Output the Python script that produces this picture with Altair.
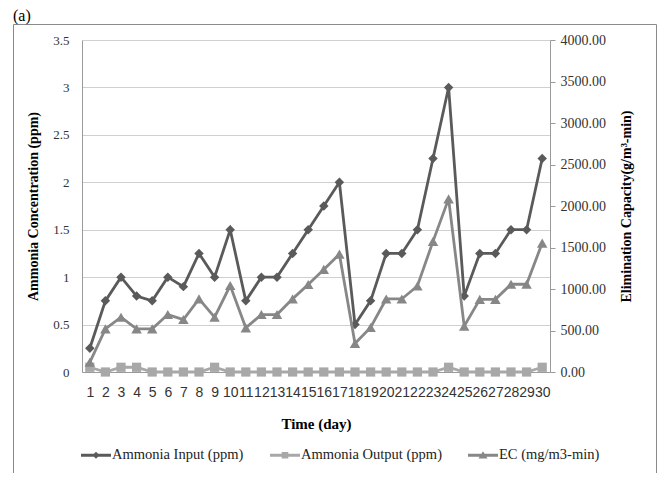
import altair as alt
import pandas as pd

days = list(range(1, 31))
ammonia_input = [0.25, 0.75, 1.0, 0.8, 0.75, 1.0, 0.9, 1.25, 1.0, 1.5,
                 0.75, 1.0, 1.0, 1.25, 1.5, 1.75, 2.0, 0.5, 0.75, 1.25,
                 1.25, 1.5, 2.25, 3.0, 0.8, 1.25, 1.25, 1.5, 1.5, 2.25]
ammonia_output = [0.05, 0.0, 0.05, 0.05, 0.0, 0.0, 0.0, 0.0, 0.05, 0.0,
                  0.0, 0.0, 0.0, 0.0, 0.0, 0.0, 0.0, 0.0, 0.0, 0.0,
                  0.0, 0.0, 0.0, 0.05, 0.0, 0.0, 0.0, 0.0, 0.0, 0.05]
ec = [117, 520, 660, 520, 520, 692, 632, 881, 660, 1042,
      532, 692, 692, 881, 1055, 1236, 1420, 343, 536, 880,
      880, 1036, 1574, 2086, 552, 875, 875, 1057, 1057, 1553]

names = ["Ammonia Input (ppm)", "Ammonia Output (ppm)", "EC (mg/m3-min)"]
colors = ["#5a5a5a", "#a8a8a8", "#878787"]
left_ticks = [0, 0.5, 1, 1.5, 2, 2.5, 3, 3.5]
right_ticks = [0, 500, 1000, 1500, 2000, 2500, 3000, 3500, 4000]

rows = []
for name, vals in zip(names, [ammonia_input, ammonia_output, ec]):
    for d, v in zip(days, vals):
        rows.append({"day": d, "series": name, "value": v})
df = pd.DataFrame(rows)

SERIF = "Liberation Serif"
SANS = "Liberation Sans"
AX = "#9a9a9a"

x_axis = alt.Axis(labelAngle=0, labelFont=SANS, labelFontSize=14, labelColor="#333333",
                  ticks=False, domainColor=AX, labelPadding=13, labelOverlap=False,
                  title="Time (day)", titleFont=SERIF, titleFontSize=15,
                  titleFontWeight="bold", titleColor="#000000", titlePadding=17, grid=False)
x_enc = alt.X("day:O", axis=x_axis)

left_axis = alt.Axis(orient="left", values=left_ticks, format="~g", ticks=False,
                     domainColor=AX, grid=True, gridColor="#d0d0d0",
                     labelFont=SERIF, labelFontSize=13, labelColor="#333333", labelPadding=13,
                     title="Ammonia Concentration (ppm)", titleFont=SERIF, titleFontSize=14,
                     titleFontWeight="bold", titleColor="#000000", titlePadding=12)
right_axis = alt.Axis(orient="right", values=right_ticks, format=".2f", tickSize=5,
                      tickColor=AX, domainColor=AX, grid=False,
                      labelFont=SERIF, labelFontSize=14, labelColor="#333333", labelPadding=5,
                      title="Elimination Capacity(g/m³-min)", titleFont=SERIF, titleFontSize=14,
                      titleFontWeight="bold", titleColor="#000000", titlePadding=14,
                      titleAngle=270, titleBaseline="top")

y_left = alt.Y("value:Q", scale=alt.Scale(domain=[0, 3.5]), axis=left_axis)
y_right = alt.Y("value:Q", scale=alt.Scale(domain=[0, 4000]), axis=right_axis)


def series_layer(name, color, shape, size, y):
    return alt.Chart(df).transform_filter(alt.datum.series == name).mark_line(
        color=color, strokeWidth=2.8,
        point=alt.OverlayMarkDef(filled=True, shape=shape, size=size, color=color, opacity=1)
    ).encode(x=x_enc, y=y)


left = alt.layer(
    series_layer(names[0], colors[0], "diamond", 90, y_left),
    series_layer(names[1], colors[1], "square", 85, y_left),
)
right = series_layer(names[2], colors[2], "triangle-up", 110, y_right)

legend_paths = [
    "M-1,-0.1H1V0.1H-1Z M0,-0.24L0.24,0L0,0.24L-0.24,0Z",
    "M-1,-0.1H1V0.1H-1Z M-0.22,-0.22H0.22V0.22H-0.22Z",
    "M-1,-0.1H1V0.1H-1Z M0,-0.26L0.3,0.22H-0.3Z",
]
leg = alt.Legend(orient="none", legendX=-1, legendY=400, direction="horizontal", columns=3,
                 title=None, symbolSize=900, symbolStrokeWidth=0, labelFont=SERIF,
                 labelFontSize=14.5, labelColor="#222222", labelOffset=1, columnPadding=26,
                 padding=0, labelLimit=300)
legend_layer = alt.Chart(df).transform_filter("false").mark_point(filled=True, opacity=1).encode(
    color=alt.Color("series:N", scale=alt.Scale(domain=names, range=colors), legend=leg),
    shape=alt.Shape("series:N", scale=alt.Scale(domain=names, range=legend_paths), legend=leg),
)

frame = alt.Chart(pd.DataFrame({"k": [0]})).mark_rect(
    fill="transparent", stroke="#8a8a8a", strokeWidth=1
).encode(x=alt.value(-68.5), x2=alt.value(574.5), y=alt.value(-15.5), y2=alt.value(460))

label_a = alt.Chart(pd.DataFrame({"t": ["(a)"]})).mark_text(
    align="left", baseline="alphabetic", font=SERIF, fontSize=16, color="#000000"
).encode(text="t:N", x=alt.value(-69), y=alt.value(-19))

chart = alt.layer(frame, label_a, left, right, legend_layer).resolve_scale(
    y="independent"
).properties(
    width=468, height=332,
    padding={"left": 74, "top": 32, "right": 108, "bottom": 101},
    autosize=alt.AutoSizeParams(type="none"),
).configure_view(strokeWidth=0)

chart.save("out.html", embed_options={"renderer": "svg", "actions": False})
